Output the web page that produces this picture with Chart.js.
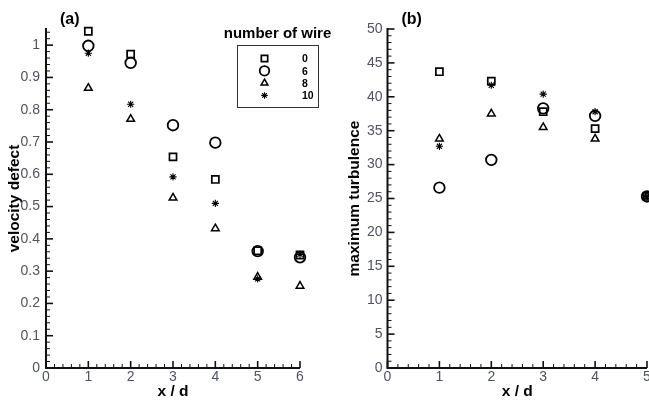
<!DOCTYPE html>
<html>
<head>
<meta charset="utf-8">
<script src="https://cdn.jsdelivr.net/npm/chart.js@4/dist/chart.umd.min.js"></script>
<style>
html, body { margin: 0; padding: 0; background: #fff; }
#wrap { position: relative; width: 649px; height: 403px; overflow: hidden; }
canvas { position: absolute; top: 0; }
#left { left: 0; }
#right { left: 340px; }
</style>
</head>
<body>
<div id="wrap">
  <canvas id="left" width="340" height="403"></canvas>
  <canvas id="right" width="315" height="403"></canvas>
</div>
<script>
// number of wires (legend)
const wireLabels = ['0', '6', '8', '10'];
const wireStyles = ['rect', 'circle', 'triangle', 'star'];
const wireRadius = [5, 5.3, 4.4, 3.6];
const wireWidth = [1.7, 1.8, 1.5, 1.1];

// (a) velocity defect vs x/d
const xDefect = [1, 2, 3, 4, 5, 6];
const defect0 = [1.043, 0.972, 0.654, 0.584, 0.363, 0.350];
const defect6 = [0.998, 0.945, 0.752, 0.698, 0.362, 0.343];
const defect8 = [0.867, 0.771, 0.527, 0.432, 0.282, 0.254];
const defect10 = [0.975, 0.817, 0.592, 0.510, 0.276, 0.352];

// (b) maximum turbulence vs x/d
const xTurb = [1, 2, 3, 4, 5];
const turb0 = [43.7, 42.3, 37.8, 35.3, 25.3];
const turb6 = [26.6, 30.7, 38.3, 37.2, 25.3];
const turb8 = [33.8, 37.5, 35.5, 33.8, 25.3];
const turb10 = [32.7, 41.7, 40.4, 37.8, 25.3];

const FONT = "'Liberation Sans', Arial, sans-serif";
const TICK_COLOR = '#4d5560';

function makeSet(i, xs, ys) {
    return {
        label: wireLabels[i],
        data: xs.map((x, k) => ({ x: x, y: ys[k] })),
        pointStyle: wireStyles[i],
        pointRadius: wireRadius[i],
        pointBorderColor: '#000',
        pointBackgroundColor: 'rgba(0,0,0,0)',
        pointBorderWidth: wireWidth[i],
        showLine: false,
        clip: false
    };
}

// axis lines + inward major/minor ticks, drawn through the scales
const axisPlugin = {
    id: 'axisTicks',
    afterDraw(chart, args, opts) {
        const ctx = chart.ctx;
        const a = chart.chartArea;
        const xs = chart.scales.x, ys = chart.scales.y;
        ctx.save();
        ctx.strokeStyle = '#111';
        for (let i = 0; i <= opts.xCount; i++) {
            const p = xs.getPixelForValue(i * opts.xMinor);
            const major = i % opts.xEvery === 0;
            ctx.lineWidth = major ? 1.6 : 1;
            ctx.beginPath();
            ctx.moveTo(p, a.bottom);
            ctx.lineTo(p, a.bottom - (major ? 7 : 4));
            ctx.stroke();
        }
        for (let i = 0; i <= opts.yCount; i++) {
            const p = ys.getPixelForValue(i * opts.yMinor);
            const major = i % opts.yEvery === 0;
            ctx.lineWidth = major ? 1.6 : 1;
            ctx.beginPath();
            ctx.moveTo(a.left, p);
            ctx.lineTo(a.left + (major ? 7 : 4), p);
            ctx.stroke();
        }
        ctx.lineWidth = 2;
        ctx.beginPath();
        ctx.moveTo(a.left, a.top - 1);
        ctx.lineTo(a.left, a.bottom);
        ctx.lineTo(a.right, a.bottom);
        ctx.stroke();

        // panel letter
        ctx.fillStyle = '#000';
        ctx.font = 'bold 16px ' + FONT;
        ctx.textBaseline = 'middle';
        ctx.fillText(opts.letter, a.left + opts.letterDx, 20);

        if (opts.legend) {
            const bx = 237, by = 45, bw = 81, bh = 62;
            ctx.font = 'bold 15px ' + FONT;
            ctx.textAlign = 'center';
            ctx.fillText('number of wire', 277.5, 34);
            ctx.lineWidth = 1;
            ctx.strokeStyle = '#333';
            ctx.strokeRect(bx + 0.5, by + 0.5, bw, bh);
            ctx.textAlign = 'left';
            ctx.font = 'bold 10.5px ' + FONT;
            for (let i = 0; i < wireLabels.length; i++) {
                const y = 58.5 + i * 12.3;
                ctx.strokeStyle = '#000';
                ctx.fillStyle = 'rgba(0,0,0,0)';
                ctx.lineWidth = wireWidth[i];
                Chart.helpers.drawPoint(ctx, {
                    pointStyle: wireStyles[i],
                    radius: wireRadius[i] * 0.9,
                    borderWidth: wireWidth[i],
                    rotation: 0
                }, 264.5, y);
                ctx.fillStyle = '#000';
                ctx.fillText(wireLabels[i], 302, y + 1);
            }
        }
        ctx.restore();
    }
};

function axes(xMax, yMax, yStep, yTitle, yPad, yWidth) {
    return {
        x: {
            type: 'linear', min: 0, max: xMax,
            grid: { display: false, drawTicks: false },
            border: { display: false },
            ticks: { stepSize: 1, autoSkip: false, maxRotation: 0, padding: 1, color: TICK_COLOR, font: { family: FONT, size: 14 } },
            title: { display: true, text: 'x / d', color: '#000', font: { family: FONT, size: 15.5, weight: 'bold' }, padding: { top: 0, bottom: 2 } },
            afterFit: s => { s.height = 35; }
        },
        y: {
            type: 'linear', min: 0, max: yMax,
            grid: { display: false, drawTicks: false },
            border: { display: false },
            ticks: {
                stepSize: yStep, includeBounds: false, autoSkip: false, padding: yPad,
                color: TICK_COLOR, font: { family: FONT, size: 14 },
                callback: v => String(Math.round(v * 100) / 100)
            },
            title: { display: true, text: yTitle, color: '#000', font: { family: FONT, size: 15.5, weight: 'bold' }, padding: { top: 5, bottom: 0 } },
            afterFit: s => { s.width = yWidth; }
        }
    };
}

new Chart(document.getElementById('left'), {
    type: 'scatter',
    data: {
        datasets: [
            makeSet(0, xDefect, defect0),
            makeSet(1, xDefect, defect6),
            makeSet(2, xDefect, defect8),
            makeSet(3, xDefect, defect10)
        ]
    },
    options: {
        responsive: false,
        animation: false,
        events: [],
        devicePixelRatio: 1,
        layout: { padding: { left: 0, right: 40, top: 29, bottom: 0 } },
        scales: axes(6, 1.05, 0.1, 'velocity defect', 6, 46),
        plugins: {
            legend: { display: false },
            tooltip: { enabled: false },
            axisTicks: { xMinor: 0.2, xCount: 30, xEvery: 5, yMinor: 0.02, yCount: 52, yEvery: 5, letter: '(a)', letterDx: 14, legend: true }
        }
    },
    plugins: [axisPlugin]
});

new Chart(document.getElementById('right'), {
    type: 'scatter',
    data: {
        datasets: [
            makeSet(0, xTurb, turb0),
            makeSet(1, xTurb, turb6),
            makeSet(2, xTurb, turb8),
            makeSet(3, xTurb, turb10)
        ]
    },
    options: {
        responsive: false,
        animation: false,
        events: [],
        devicePixelRatio: 1,
        layout: { padding: { left: 0, right: 8, top: 29, bottom: 0 } },
        scales: axes(5, 50, 5, 'maximum turbulence', 5, 47.5),
        plugins: {
            legend: { display: false },
            tooltip: { enabled: false },
            axisTicks: { xMinor: 0.2, xCount: 25, xEvery: 5, yMinor: 1, yCount: 50, yEvery: 5, letter: '(b)', letterDx: 14, legend: false }
        }
    },
    plugins: [axisPlugin]
});
</script>
</body>
</html>
